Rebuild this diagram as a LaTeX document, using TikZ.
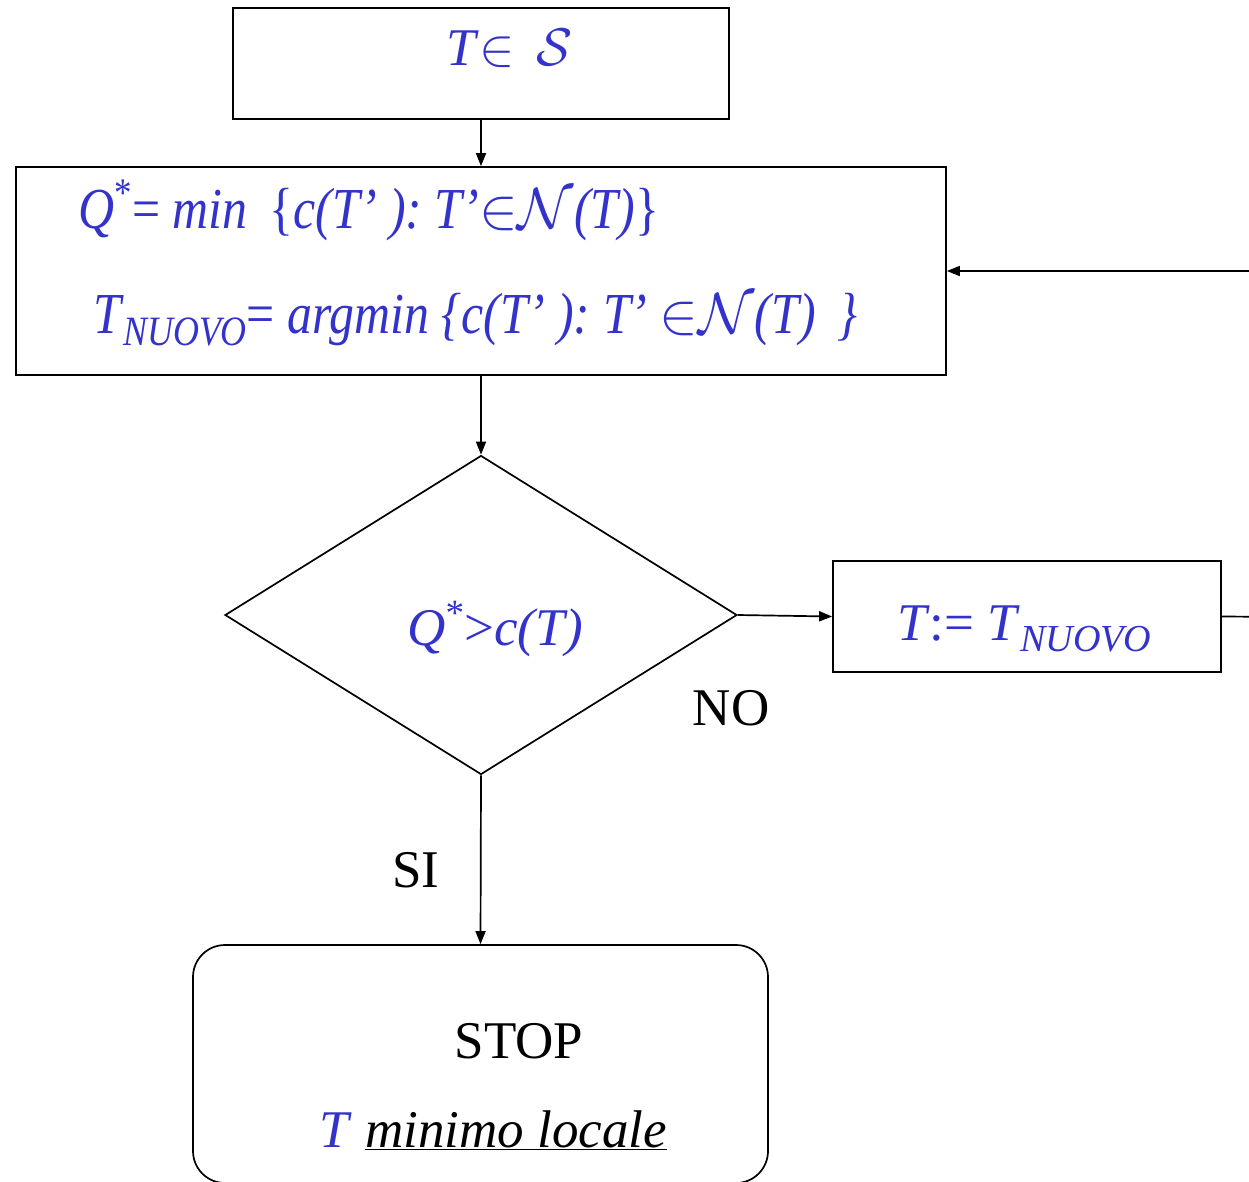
\documentclass[tikz,border=0pt]{standalone}
\usepackage{fix-cm}
\usepackage{fontspec}
\setmainfont{Liberation Serif}
\newfontfamily\narrowfont[FakeStretch=0.86]{Liberation Serif}
\usetikzlibrary{shapes.geometric,arrows.meta}
\definecolor{formula}{RGB}{51,51,204}
\newcommand{\nuovo}{\raisebox{-0.22em}{\scalebox{0.72}{\itshape NUOVO}}}
\tikzset{
    flow box/.style={
        draw,line width=1.7pt,
        inner sep=0pt
    },
    flow line/.style={line width=1.7pt},
    big text/.style={font=\fontsize{53}{60}\selectfont},
    formula text/.style={big text,text=formula,inner sep=0pt},
    narrow text/.style={formula text,anchor=base west,font=\narrowfont\fontsize{58}{60}\selectfont},
    >={Triangle[length=13pt,width=10pt]}
}

\begin{document}
\begin{tikzpicture}[x=1pt,y=-1pt]
\clip (0,0) rectangle (1249,1181);
\fill[white] (0,0) rectangle (1249,1181);
% boxes
\node[flow box,minimum width=496pt,minimum height=111pt] (start) at (481,63.5) {};
\node[flow box,minimum width=930pt,minimum height=208pt] (neigh) at (481,271) {};
\node[flow box,shape=diamond,minimum width=512pt,minimum height=319pt] (test) at (481,615) {};
\node[flow box,minimum width=388pt,minimum height=111pt] (update) at (1027,616.5) {};
\node[flow box,rounded corners=32pt,minimum width=575pt,minimum height=238pt] (stop) at (480.5,1064) {};
% texts
\node[formula text,anchor=base] (start text) at (510,65) {\textit{T}$\in$ \,$\mathcal{S}$};
\node[narrow text] (min text) at (78,228)
    {\textit{Q}\textsuperscript{*}= \textit{min} \,\{\textit{c(T’ ): T’}$\in$$\mathcal{N}$\textit{(T)}\}};
\node[narrow text] (argmin text) at (93,333)
    {\textit{T}\nuovo= \textit{argmin \{c(T’ ): T’ }$\in$$\mathcal{N}$\textit{(T)\, \}}};
\node[formula text,anchor=base] (test text) at (495,645) {\textit{Q}\textsuperscript{*}>\textit{c(T)}};
\node[formula text,anchor=base] (update text) at (1024,640) {\textit{T}:= \textit{T}\nuovo};
\node[big text,anchor=base,inner sep=0pt] (stop text) at (519,1058) {STOP};
\node[big text,anchor=base,inner sep=0pt] (local text) at (493,1147)
    {\textcolor{formula}{\textit{T}} \underline{\textit{minimo locale}}};
\node[big text,anchor=base,inner sep=0pt] (no label) at (731,725) {NO};
\node[big text,anchor=base,inner sep=0pt] (si label) at (416,887) {SI};
% connectors
\coordinate (loop corner) at (1300,617);
\draw[flow line,->] (start) -- (neigh);
\draw[flow line,->] (neigh) -- (test);
\draw[flow line,->] (test.east) -- (update.west);
\draw[flow line,->] (test.south) -- (stop.north);
\draw[flow line,->] (update.east) -- (loop corner) |- (neigh.east);
\end{tikzpicture}
\end{document}
